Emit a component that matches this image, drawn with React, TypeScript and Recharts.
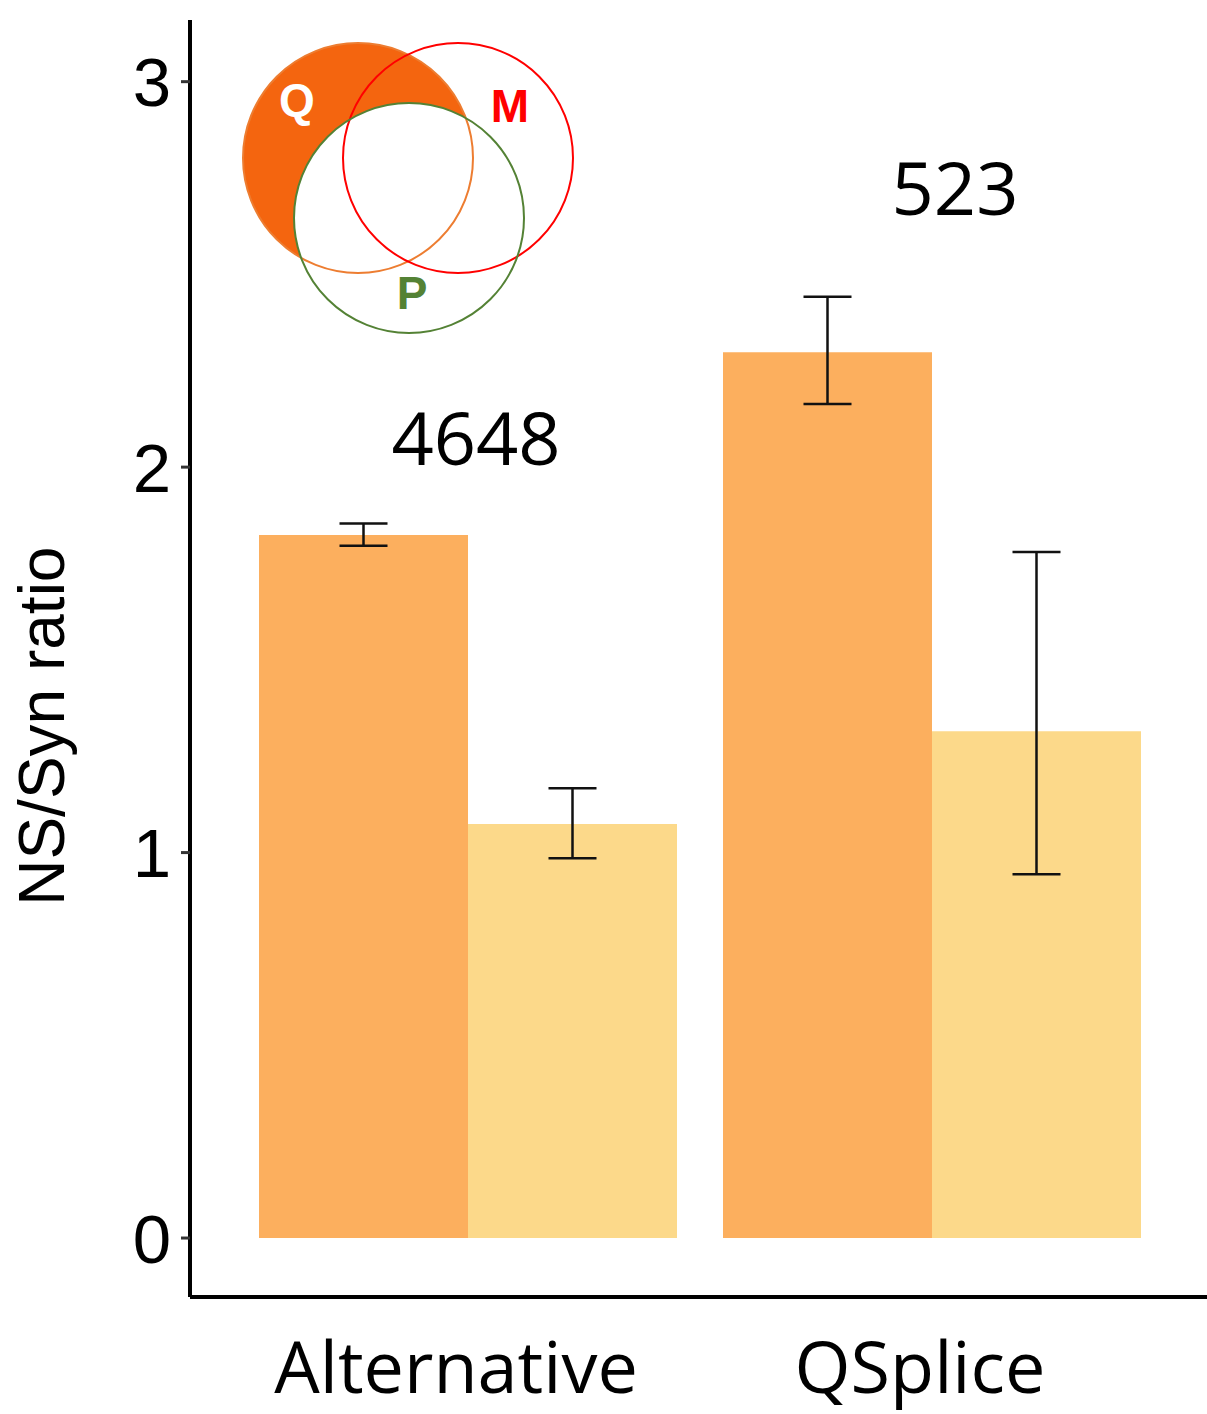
import React from 'react'
import {
  BarChart,
  Bar,
  XAxis,
  YAxis,
  ErrorBar,
  ReferenceDot,
} from 'recharts'

// values
const categories = ['Alternative', 'QSplice']
const qValues = [1.824, 2.298]
const qLow = [1.796, 2.164]
const qHigh = [1.854, 2.442]
const otherValues = [1.074, 1.315]
const otherLow = [0.985, 0.944]
const otherHigh = [1.167, 1.78]
const counts = ['4648', '523']
const countY = [2.006, 2.654]
const yTicks = [0, 1, 2, 3]

const data = categories.map((cat, i) => ({
  cat,
  q: qValues[i],
  qErr: [qValues[i] - qLow[i], qHigh[i] - qValues[i]],
  other: otherValues[i],
  otherErr: [otherValues[i] - otherLow[i], otherHigh[i] - otherValues[i]],
}))

const countDx = [8, 23]
const sansText = '"Open Sans", sans-serif'
const arial = '"Liberation Sans", Arial, sans-serif'

const CategoryTick = (props: any) => {
  const { x, y, payload } = props
  return (
    <text
      x={x - 12}
      y={y + 96}
      textAnchor="middle"
      fontSize={72}
      fontFamily={sansText}
      fill="#000"
    >
      {payload.value}
    </text>
  )
}

const AxisTitle = (props: any) => {
  const vb = props.viewBox || { x: 0, y: 20, width: 190, height: 1277 }
  const cx = 42
  const cy = vb.y + vb.height * 0.553
  return (
    <text
      x={cx}
      y={cy}
      transform={`rotate(-90, ${cx}, ${cy})`}
      textAnchor="middle"
      dominantBaseline="central"
      fontSize={64}
      fontFamily={arial}
      fill="#000"
    >
      NS/Syn ratio
    </text>
  )
}

// small venn key in the upper left corner
function Venn() {
  return (
    <svg
      width={1207}
      height={400}
      style={{ position: 'absolute', left: 0, top: 0, pointerEvents: 'none' }}
    >
      <defs>
        <mask id="notP">
          <rect x={0} y={0} width={1207} height={400} fill="#fff" />
          <circle cx={409} cy={218} r={115} fill="#000" />
        </mask>
      </defs>
      <circle cx={358} cy={158} r={115} fill="#F4650F" mask="url(#notP)" />
      <circle cx={358} cy={158} r={115} fill="none" stroke="#ED7D31" strokeWidth={2} />
      <circle cx={458} cy={158} r={115} fill="none" stroke="#FF0000" strokeWidth={2} />
      <circle cx={409} cy={218} r={115} fill="none" stroke="#548235" strokeWidth={2} />
      <text x={297} y={100} textAnchor="middle" dominantBaseline="central" fontSize={46} fontWeight="bold" fontFamily={arial} fill="#fff">Q</text>
      <text x={510} y={106} textAnchor="middle" dominantBaseline="central" fontSize={46} fontWeight="bold" fontFamily={arial} fill="#FF0000">M</text>
      <text x={412} y={293} textAnchor="middle" dominantBaseline="central" fontSize={46} fontWeight="bold" fontFamily={arial} fill="#548235">P</text>
    </svg>
  )
}

export default function App() {
  return (
    <div style={{ position: 'absolute', left: 0, top: 0, width: 1207, height: 1414, background: '#fff' }}>
      <BarChart
        width={1207}
        height={1414}
        data={data}
        margin={{ top: 20, right: 0, bottom: 0, left: 0 }}
        barGap={0}
        barCategoryGap={23}
      >
        <XAxis
          dataKey="cat"
          height={117}
          padding={{ left: 46, right: 43 }}
          tickLine={false}
          tickSize={0}
          tickMargin={0}
          axisLine={{ stroke: '#000', strokeWidth: 4 }}
          tick={<CategoryTick />}
        />
        <YAxis
          width={190}
          domain={[-0.153, 3.16]}
          allowDataOverflow
          ticks={yTicks}
          tickSize={9}
          tickMargin={10}
          tickLine={{ stroke: '#333', strokeWidth: 3 }}
          axisLine={{ stroke: '#000', strokeWidth: 4 }}
          tick={{ fontSize: 69, fontFamily: arial, fill: '#000' }}
          label={{ content: <AxisTitle /> }}
        />
        <Bar dataKey="q" fill="#FCAF5E" isAnimationActive={false}>
          <ErrorBar dataKey="qErr" width={24} stroke="#111" strokeWidth={2.5} direction="y" isAnimationActive={false} />
        </Bar>
        <Bar dataKey="other" fill="#FCD98A" isAnimationActive={false}>
          <ErrorBar dataKey="otherErr" width={24} stroke="#111" strokeWidth={2.5} direction="y" isAnimationActive={false} />
        </Bar>
        {categories.map((cat, i) => (
          <ReferenceDot
            key={cat}
            x={cat}
            y={countY[i]}
            r={1}
            fill="none"
            stroke="none"
            label={{
              content: (p: any) => (
                <text
                  x={p.viewBox.x + p.viewBox.width / 2 + countDx[i]}
                  y={p.viewBox.y + p.viewBox.height / 2}
                  textAnchor="middle"
                  fontSize={74}
                  fontFamily={sansText}
                  fill="#000"
                >
                  {counts[i]}
                </text>
              ),
            }}
          />
        ))}
      </BarChart>
      <Venn />
    </div>
  )
}
